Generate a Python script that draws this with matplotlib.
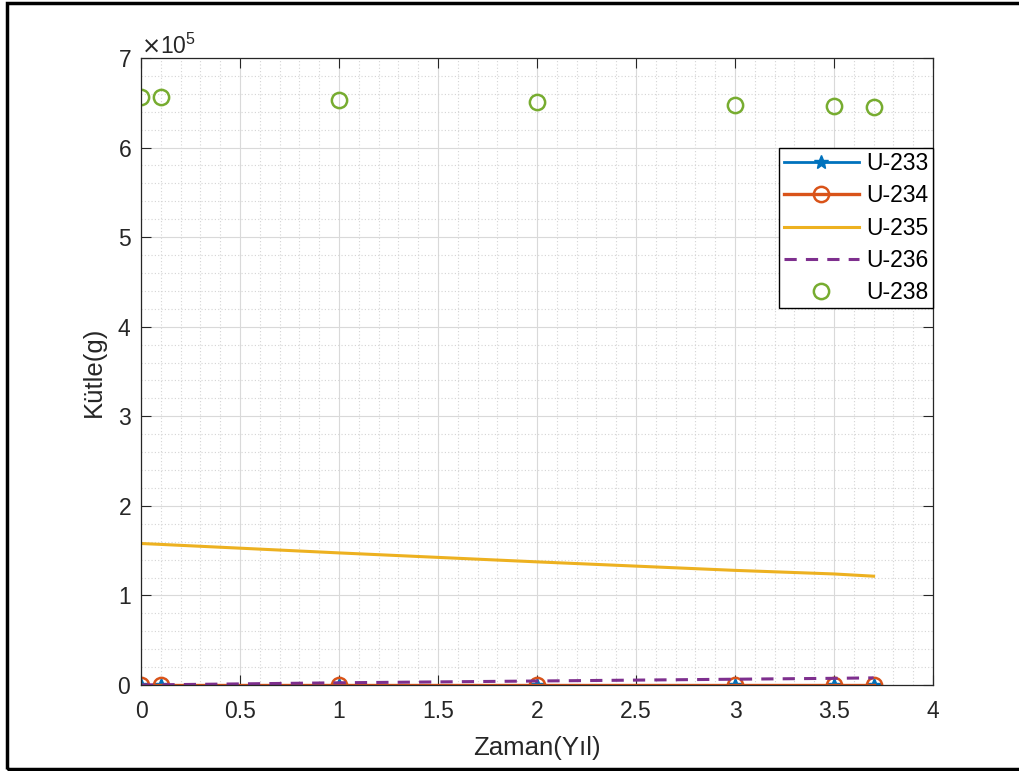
import matplotlib
matplotlib.use("Agg")
import matplotlib.pyplot as plt
from matplotlib.ticker import MultipleLocator, ScalarFormatter
from matplotlib.patches import Rectangle

plt.rcParams['font.family'] = ['Liberation Sans', 'DejaVu Sans']

t = [0, 0.1, 1, 2, 3, 3.5, 3.7]
u233 = [0, 0, 0, 0, 0, 0, 0]
u234 = [0, 0, 0, 0, 0, 0, 0]
u235 = [158000, 157000, 147500, 137500, 128000, 124000, 121500]
u236 = [0, 300, 2500, 4500, 6500, 7500, 8000]
u238 = [656000, 656000, 653000, 651000, 647000, 646000, 645000]

labels = ['U-233', 'U-234', 'U-235', 'U-236', 'U-238']
colors = ['#0072BD', '#D95319', '#EDB120', '#7E2F8E', '#77AC30']

fig = plt.figure(figsize=(10.19, 7.71), dpi=100)
ax = fig.add_axes([0.1384, 0.1115, 0.7772, 0.8133])

ax.plot(t, u233, color=colors[0], marker='*', markersize=10, lw=2, label=labels[0])
ax.plot(t, u234, color=colors[1], marker='o', markersize=11, mfc='none', mew=1.8, lw=2.4, label=labels[1])
ax.plot(t, u235, color=colors[2], lw=2.2, label=labels[2])
ax.plot(t, u236, color=colors[3], lw=2.2, ls=(0, (4, 3)), label=labels[3])
ax.plot(t, u238, color=colors[4], marker='o', markersize=11, mfc='none', mew=1.8, ls='none', label=labels[4])

ax.set_xlim(0, 4)
ax.set_ylim(0, 700000)
ax.xaxis.set_major_locator(MultipleLocator(0.5))
ax.xaxis.set_minor_locator(MultipleLocator(0.1))
ax.yaxis.set_major_locator(MultipleLocator(100000))
ax.yaxis.set_minor_locator(MultipleLocator(20000))
fmt = ScalarFormatter(useMathText=True)
fmt.set_powerlimits((0, 0))
ax.yaxis.set_major_formatter(fmt)
ax.xaxis.set_major_formatter(matplotlib.ticker.FuncFormatter(lambda v, p: ('%g' % v)))

ax.grid(True, which='major', color='#d9d9d9', lw=0.8)
ax.grid(True, which='minor', color='#d4d4d4', lw=0.8, ls=(0, (1, 2)))
ax.set_axisbelow(True)
ax.tick_params(which='both', direction='in', top=True, right=True, labelsize=16.5, colors='#262626')
ax.tick_params(which='minor', length=0)
ax.tick_params(which='major', length=7)
ax.tick_params(axis='x', pad=11)
ax.tick_params(axis='y', pad=7)
for s in ax.spines.values():
    s.set_color('#262626')
    s.set_linewidth(0.9)
ax.yaxis.get_offset_text().set_fontsize(16.5)
ax.yaxis.get_offset_text().set_color('#262626')

ax.set_xlabel('Zaman(Yıl)', fontsize=18.5, color='#262626', labelpad=9)
ax.set_ylabel('Kütle(g)', fontsize=18.5, color='#262626', labelpad=8)

leg = ax.legend(loc='upper right', bbox_to_anchor=(1.0, 0.857), fontsize=16.5, frameon=True,
                fancybox=False, edgecolor='black', framealpha=1, handlelength=3.3,
                borderpad=0.2, labelspacing=0.4, handletextpad=0.3, borderaxespad=0)
leg.get_frame().set_linewidth(1.0)

fig.patches.append(Rectangle((7/1019, 2/771), 1030/1019, 766/771, transform=fig.transFigure,
                             fill=False, edgecolor='black', lw=2.5))

fig.savefig('out.png', dpi=100)
